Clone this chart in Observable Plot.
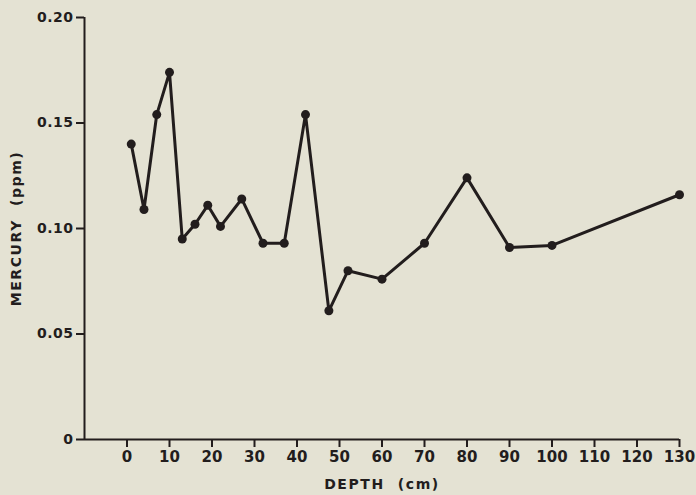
<!DOCTYPE html>
<html>
<head>
<meta charset="utf-8">
<script src="https://cdn.jsdelivr.net/npm/d3@7"></script>
<script src="https://cdn.jsdelivr.net/npm/@observablehq/plot@0.6"></script>
<style>
  html, body { margin: 0; padding: 0; background: #e4e2d3; }
  #chart svg { display: block; }
  #chart g[aria-label="y-axis tick label"] text { letter-spacing: 0.5px; font-size: 14px; font-weight: bold; }
  #chart g[aria-label="x-axis tick label"] text { letter-spacing: 0px; font-size: 15px; font-weight: bold; }
  #chart g.title text { letter-spacing: 1.6px; font-size: 14px; }
</style>
</head>
<body>
<div id="chart"></div>
<script>
const depth = [1, 4, 7, 10, 13, 16, 19, 22, 27, 32, 37, 42, 47.5, 52, 60, 70, 80, 90, 100, 130];
const mercury = [0.140, 0.109, 0.154, 0.174, 0.095, 0.102, 0.111, 0.101, 0.114, 0.093, 0.093, 0.154, 0.061, 0.080, 0.076, 0.093, 0.124, 0.091, 0.092, 0.116];
const xTicks = [0, 10, 20, 30, 40, 50, 60, 70, 80, 90, 100, 110, 120, 130];
const yTicks = [0, 0.05, 0.10, 0.15, 0.20];
const yTickLabels = ["0", "0.05", "0.10", "0.15", "0.20"];
const xTitle = "DEPTH  (cm)";
const yTitle = "MERCURY  (ppm)";

const data = depth.map((d, i) => ({depth: d, mercury: mercury[i]}));
const ink = "#221d1d";

const chart = Plot.plot({
  width: 696,
  height: 495,
  marginLeft: 84,
  marginRight: 17,
  marginTop: 17,
  marginBottom: 56,
  style: {background: "#e4e2d3", fontFamily: "DejaVu Sans", color: ink},
  x: {domain: [-10, 130]},
  y: {domain: [0, 0.2]},
  marks: [
    Plot.ruleY([0], {stroke: ink, strokeWidth: 2}),
    Plot.ruleX([-10], {stroke: ink, strokeWidth: 2}),
    Plot.axisX({ticks: xTicks, tickSize: 8, tickPadding: 4, fontSize: 15, stroke: ink, strokeWidth: 2, fill: ink, label: null, tickFormat: d => String(d)}),
    Plot.axisY({ticks: yTicks, tickSize: 8, tickPadding: 3, fontSize: 14, stroke: ink, strokeWidth: 2, fill: ink, label: null, tickFormat: d => yTickLabels[yTicks.indexOf(d)]}),
    Plot.line(data, {x: "depth", y: "mercury", stroke: ink, strokeWidth: 3, strokeLinejoin: "round"}),
    Plot.dot(data, {x: "depth", y: "mercury", r: 4.5, fill: ink, stroke: "none"}),
    Plot.text([xTitle], {frameAnchor: "bottom", dy: 49, fontSize: 14, fontWeight: "bold", fill: ink, className: "title"}),
    Plot.text([yTitle], {frameAnchor: "left", textAnchor: "middle", dx: -68, rotate: -90, fontSize: 14, fontWeight: "bold", fill: ink, className: "title"})
  ]
});
document.getElementById("chart").appendChild(chart);
</script>
</body>
</html>
